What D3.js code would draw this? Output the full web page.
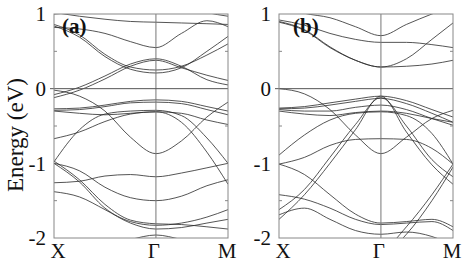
<!DOCTYPE html>
<html>
<head>
<meta charset="utf-8">
<script src="https://cdn.jsdelivr.net/npm/d3@7/dist/d3.min.js"></script>
<style>
  body { margin: 0; background: #fff; }
  text { font-family: "Liberation Serif", "DejaVu Serif", serif; fill: #111; }
</style>
</head>
<body>
<svg id="chart" width="463" height="268"></svg>
<script>
// k-path sample points: X -> Gamma -> M
var kPoints = [0, 0.25, 0.5, 0.75, 1, 1.25, 1.5, 1.707];
var kLabels = ["X", "\u0393", "M"];
var kLabelPos = [0, 1, 1.707];
var energyTicks = [1, 0, -1, -2];
var minorTicks = [0.5, -0.5, -1.5];

// panel (a) bands, energy (eV) at each k point
var bandsA = [
  [1.02, 0.97, 0.93, 0.90, 0.89, 0.88, 0.87, 0.86],
  [1.00, 1.03, 1.10, 1.15, 1.18, 1.12, 1.02, 0.97],
  [0.82, 0.80, 0.74, 0.63, 0.55, 0.74, 0.91, 0.83],
  [0.86, 0.72, 0.46, 0.29, 0.25, 0.30, 0.45, 0.60],
  [0.84, 0.69, 0.43, 0.26, 0.21, 0.28, 0.50, 0.70],
  [-0.08, 0.02, 0.17, 0.33, 0.40, 0.30, 0.12, 0.05],
  [-0.12, -0.02, 0.13, 0.30, 0.38, 0.28, 0.18, 0.11],
  [-0.27, -0.26, -0.22, -0.17, -0.15, -0.17, -0.24, -0.30],
  [-0.29, -0.28, -0.24, -0.19, -0.18, -0.20, -0.28, -0.35],
  [-0.30, -0.33, -0.35, -0.33, -0.31, -0.33, -0.42, -0.48],
  [-0.02, -0.10, -0.30, -0.65, -0.87, -0.70, -0.38, -0.18],
  [-0.98, -0.55, -0.34, -0.30, -0.29, -0.36, -0.66, -1.00],
  [-0.67, -0.58, -0.44, -0.34, -0.31, -0.45, -0.85, -1.28],
  [-1.26, -1.24, -1.17, -1.15, -1.18, -1.13, -1.06, -1.00],
  [-1.00, -1.10, -1.32, -1.46, -1.50, -1.44, -1.30, -1.22],
  [-1.00, -1.25, -1.60, -1.78, -1.83, -1.80, -1.72, -1.62],
  [-0.97, -1.22, -1.55, -1.76, -1.81, -1.82, -1.85, -1.88],
  [-1.38, -1.45, -1.62, -1.80, -1.88, -1.86, -1.80, -1.75],
  [-2.30, -2.20, -2.10, -2.02, -1.96, -2.02, -2.10, -2.20]
];

// panel (b) bands
var bandsB = [
  [1.12, 1.01, 0.95, 0.83, 0.71, 0.86, 1.00, 1.10],
  [0.92, 0.85, 0.74, 0.66, 0.62, 0.62, 0.59, 0.55],
  [0.89, 0.78, 0.55, 0.38, 0.29, 0.40, 0.66, 0.88],
  [0.90, 0.79, 0.56, 0.38, 0.29, 0.30, 0.33, 0.38],
  [0.00, -0.07, -0.28, -0.62, -0.87, -0.65, -0.40, -0.29],
  [-0.26, -0.24, -0.19, -0.14, -0.10, -0.16, -0.28, -0.38],
  [-0.27, -0.26, -0.22, -0.17, -0.13, -0.20, -0.33, -0.45],
  [-0.28, -0.30, -0.30, -0.25, -0.22, -0.28, -0.40, -0.49],
  [-0.30, -0.34, -0.36, -0.32, -0.30, -0.33, -0.40, -0.45],
  [-1.75, -1.42, -1.00, -0.55, -0.10, -0.58, -1.02, -1.28],
  [-1.62, -1.35, -0.92, -0.48, -0.12, -0.50, -0.95, -1.18],
  [-0.89, -0.62, -0.42, -0.33, -0.31, -0.36, -0.60, -1.01],
  [-1.01, -0.92, -0.76, -0.68, -0.67, -0.68, -0.80, -1.01],
  [-1.01, -1.15, -1.42, -1.68, -1.80, -1.78, -1.75, -1.85],
  [-1.42, -1.48, -1.60, -1.75, -1.82, -1.80, -1.78, -1.90],
  [-1.69, -1.60, -1.75, -1.90, -1.95, -1.92, -1.98, -2.10],
  [-2.60, -2.50, -2.40, -2.30, -2.20, -1.85, -1.42, -1.01],
  [-2.60, -2.50, -2.40, -2.30, -2.25, -1.95, -1.50, -1.05]
];

var svg = d3.select("#chart");
var plotTop = 14, plotBottom = 238;

var y = d3.scaleLinear().domain([-2, 1]).range([plotBottom, plotTop]);

function drawPanel(id, left, right, bands, tag) {
  var x = d3.scaleLinear().domain([0, 1.707]).range([left, right]);
  var g = svg.append("g");

  g.append("clipPath").attr("id", "clip" + id)
    .append("rect")
      .attr("x", left).attr("y", plotTop)
      .attr("width", right - left).attr("height", plotBottom - plotTop);

  var line = d3.line()
      .x(function(d, i) { return x(kPoints[i]); })
      .y(function(d) { return y(d); })
      .curve(d3.curveMonotoneX);

  g.append("g")
      .attr("clip-path", "url(#clip" + id + ")")
    .selectAll("path")
    .data(bands)
    .enter().append("path")
      .attr("d", line)
      .attr("fill", "none")
      .attr("stroke", "#2a2a2a")
      .attr("stroke-width", 0.8);

  // Gamma line and Fermi level
  g.append("line")
      .attr("x1", x(1)).attr("x2", x(1))
      .attr("y1", plotTop).attr("y2", plotBottom)
      .attr("stroke", "#777").attr("stroke-width", 1);
  g.append("line")
      .attr("x1", left - 4).attr("x2", right)
      .attr("y1", y(0)).attr("y2", y(0))
      .attr("stroke", "#555").attr("stroke-width", 1);

  // minor ticks on both sides
  minorTicks.forEach(function(t) {
    g.append("line").attr("x1", left).attr("x2", left + 3)
      .attr("y1", y(t)).attr("y2", y(t)).attr("stroke", "#888");
    g.append("line").attr("x1", right - 3).attr("x2", right)
      .attr("y1", y(t)).attr("y2", y(t)).attr("stroke", "#888");
  });

  g.append("rect")
      .attr("x", left).attr("y", plotTop)
      .attr("width", right - left).attr("height", plotBottom - plotTop)
      .attr("fill", "none").attr("stroke", "#888").attr("stroke-width", 1);

  g.selectAll(".ytick")
    .data(energyTicks)
    .enter().append("text")
      .attr("class", "ytick")
      .attr("x", left - 8)
      .attr("y", function(d) { return y(d); })
      .attr("dy", "0.35em")
      .attr("text-anchor", "end")
      .style("font-size", "21px")
      .text(function(d) { return d < 0 ? "-" + Math.abs(d) : d; });

  g.selectAll(".xtick")
    .data(kLabels)
    .enter().append("text")
      .attr("class", "xtick")
      .attr("x", function(d, i) { return x(kLabelPos[i]) + (i == 0 ? 4 : (i == 1 ? -2 : -1)); })
      .attr("y", 258)
      .attr("text-anchor", "middle")
      .style("font-size", "21px")
      .text(function(d) { return d; });

  g.append("text")
      .attr("x", left + (id == "a" ? 8 : 14))
      .attr("y", 33)
      .style("font-size", "21px")
      .style("font-weight", "bold")
      .text(tag);
}

drawPanel("a", 54, 228, bandsA, "(a)");
drawPanel("b", 279, 453, bandsB, "(b)");

svg.append("text")
    .attr("transform", "translate(23,135) rotate(-90)")
    .attr("text-anchor", "middle")
    .style("font-size", "23px")
    .text("Energy (eV)");
</script>
</body>
</html>
